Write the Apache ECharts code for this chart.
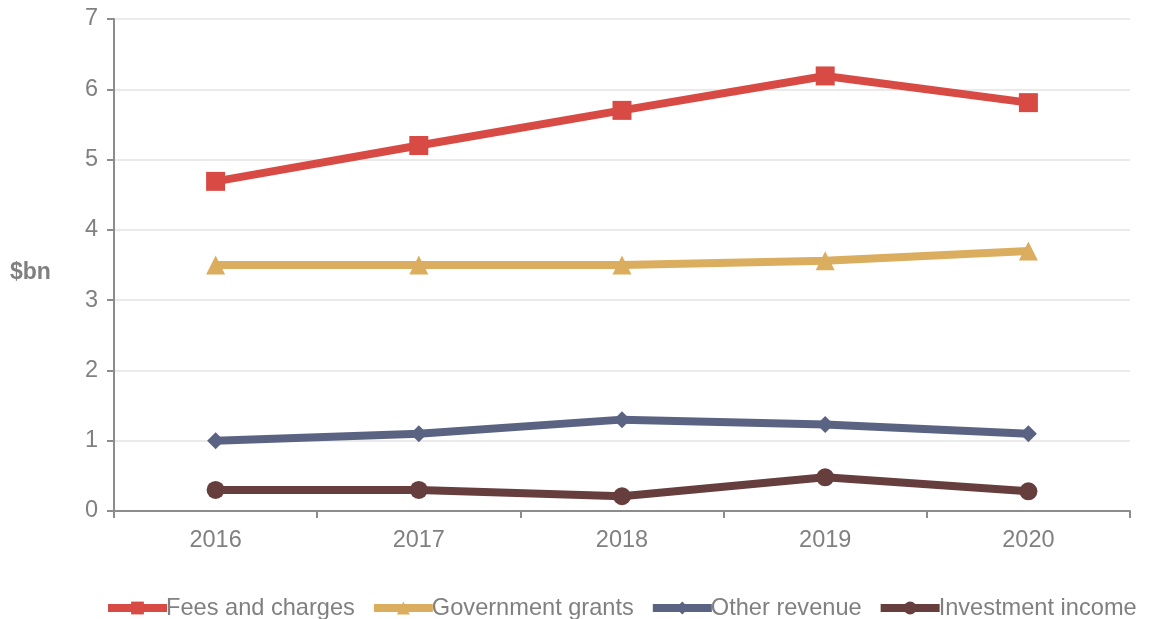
<!DOCTYPE html>
<html><head><meta charset="utf-8">
<script src="https://cdn.jsdelivr.net/npm/echarts@6/dist/echarts.min.js"></script>
<style>html,body{margin:0;padding:0;background:#fff}#c{width:1154px;height:619px}</style>
</head><body><div id="c"></div>
<script>
const years = ['2016','2017','2018','2019','2020'];
const fees = [4.69, 5.20, 5.70, 6.19, 5.81];
const grants = [3.50, 3.50, 3.50, 3.56, 3.70];
const other = [1.00, 1.10, 1.30, 1.23, 1.10];
const investment = [0.30, 0.30, 0.21, 0.48, 0.28];
const yTicks = [0,1,2,3,4,5,6,7];

const font = 'Liberation Sans, Arial, sans-serif';
const gray = '#808080';
function s(name, data, color, symbol, size){
  return {name, type:'line', data, symbol, symbolSize:size,
    lineStyle:{width:8,color}, itemStyle:{color}, emphasis:{disabled:true}};
}
const chart = echarts.init(document.getElementById('c'));
chart.setOption({
  animation:false,
  textStyle:{fontFamily:font},
  grid:{left:114,right:24,top:19,bottom:108,containLabel:false},
  xAxis:{type:'category',data:years,boundaryGap:true,
    axisLine:{lineStyle:{color:'#8c8c8c',width:2}},
    axisTick:{show:true,length:7,lineStyle:{color:'#8c8c8c',width:2}},
    axisLabel:{color:gray,fontSize:23.5,margin:18,fontFamily:font}},
  yAxis:{type:'value',min:0,max:7,interval:1,
    axisLine:{show:true,lineStyle:{color:'#8c8c8c',width:2}},
    axisTick:{show:true,length:7,lineStyle:{color:'#8c8c8c',width:2}},
    axisLabel:{color:gray,fontSize:23.5,margin:16,fontFamily:font,
      formatter:v=>yTicks.includes(v)?String(v):''},
    splitLine:{lineStyle:{color:'#e3e3e3',width:1.5}}},
  legend:{top:596,left:104,padding:0,itemGap:15,itemWidth:59,itemHeight:16,
    lineStyle:{width:8},
    textStyle:{color:gray,fontSize:23.6,fontFamily:font,padding:[0,0,0,-6]},
    data:['Fees and charges','Government grants','Other revenue','Investment income']},
  graphic:[{type:'text',left:10,top:261,style:{text:'$bn',fill:gray,font:'bold 23px '+font}}],
  series:[
    s('Fees and charges',fees,'#d84b45','rect',19),
    s('Government grants',grants,'#dbad5f','triangle',19),
    s('Other revenue',other,'#5b6383','diamond',17),
    s('Investment income',investment,'#673e3e','circle',18)
  ]
});
</script></body></html>
